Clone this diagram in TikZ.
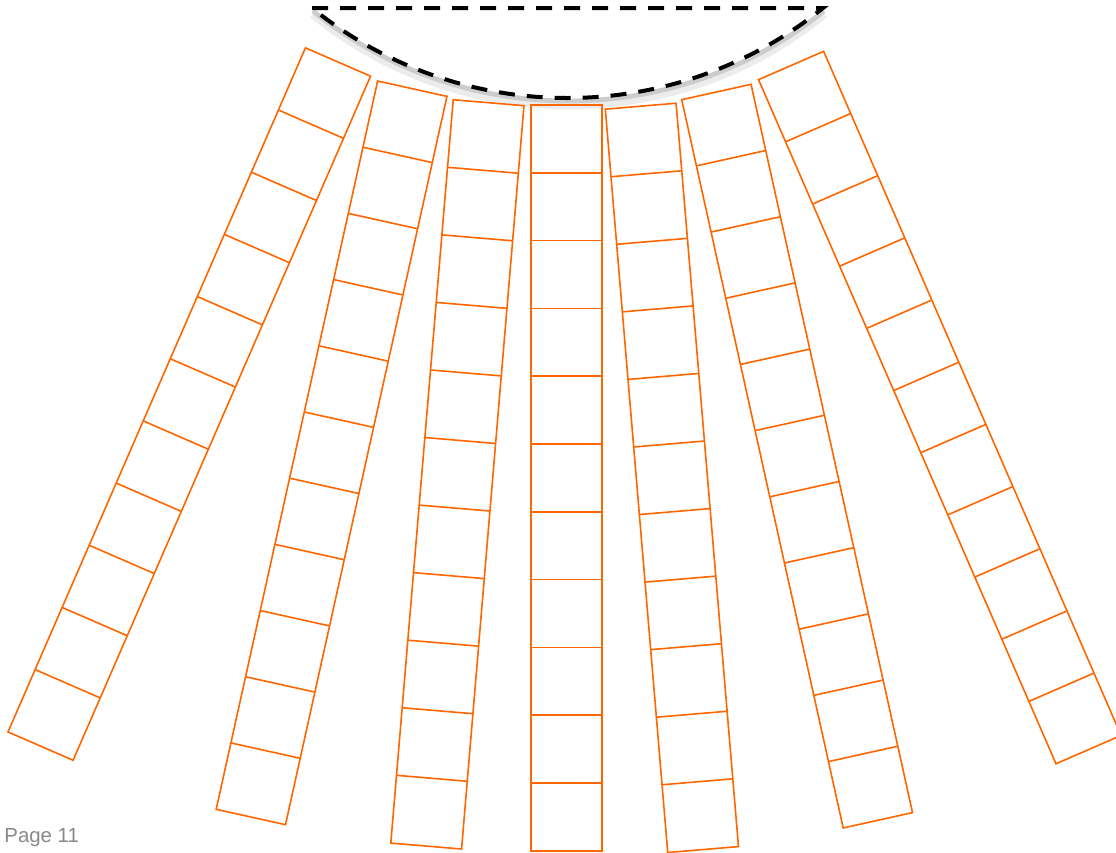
\documentclass[tikz,border=0pt]{standalone}
\usepackage{fontspec}
\setmainfont{Liberation Sans}
\definecolor{cellorange}{RGB}{255,102,0}
\definecolor{pagegray}{RGB}{137,137,137}
\begin{document}
\begin{tikzpicture}[x=0.5pt,y=-0.5pt,
    cellline/.style={draw=cellorange, thick},
    rimline/.style={draw=black, line width=2pt, dash pattern=on 8pt off 6pt}]
        \useasboundingbox (0,0) rectangle (1116,853);
        % shadow and rim
        \draw [gray!15, line width=4.5pt] (313,14) .. controls (462,135) and (675,135) .. (824,14);
        \draw [gray!40, line width=2.4pt] (313,11) .. controls (462,131) and (675,131) .. (824,11);
        \draw [rimline] (312,8) -- (823,8) .. controls (674,128) and (461,128) .. (312,8) -- cycle;
        % columns
        \foreach \cx/\cy/\ang in {338/62/-23.5, 412.3/88.7/-12.5, 488.6/102.7/-4.8, 566.7/105/0, 640.7/106.2/4.8, 716.4/92/12.5, 791.1/65.5/23.5}{
            \begin{scope}[shift={(\cx,\cy)}, rotate=\ang]
            \draw [cellline] (-35.5,0) rectangle (35.5,746);
            \foreach \k in {1,...,10}{\draw [cellline] (-35.5,\k*67.8) -- (35.5,\k*67.8);}
            \end{scope}
        }
        % page number
        \node [pagegray, inner sep=0pt, anchor=base west, font=\fontsize{10.2}{12}\selectfont] (pagenum) at (4,842) {Page 11};
\end{tikzpicture}
\end{document}
